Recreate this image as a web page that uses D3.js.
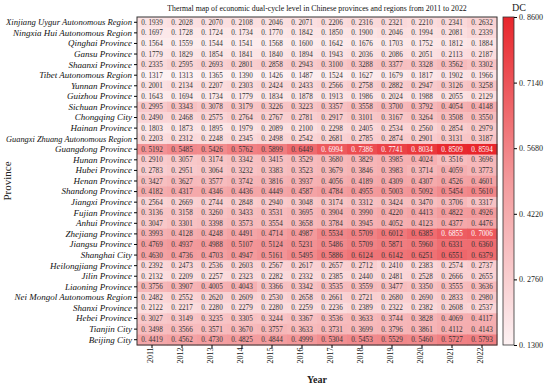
<!DOCTYPE html>
<html>
<head>
<meta charset="utf-8">
<script src="https://cdn.jsdelivr.net/npm/d3@7"></script>
<style>
  body { margin: 0; background: #fff; }
  svg { display: block; }
</style>
</head>
<body>
<div id="chart"></div>
<script>
// Data
const provinces = [
  "Xinjiang Uygur Autonomous Region", "Ningxia Hui Autonomous Region", "Qinghai Province",
  "Gansu Province", "Shaanxi Province", "Tibet Autonomous Region", "Yunnan Province",
  "Guizhou Province", "Sichuan Province", "Chongqing City", "Hainan Province",
  "Guangxi Zhuang Autonomous Region", "Guangdong Province", "Hunan Province", "Hubei Province",
  "Henan Province", "Shandong Province", "Jiangxi Province", "Fujian Province", "Anhui Province",
  "Zhejiang Province", "Jiangsu Province", "Shanghai City", "Heilongjiang Province",
  "Jilin Province", "Liaoning Province", "Nei Mongol Autonomous Region", "Shanxi Province",
  "Hebei Province", "Tianjin City", "Beijing City"
];

const years = ["2011", "2012", "2013", "2014", "2015", "2016", "2017", "2018", "2019", "2020", "2021", "2022"];

const dcValues = [
  [0.1939, 0.2028, 0.2070, 0.2108, 0.2046, 0.2071, 0.2206, 0.2316, 0.2321, 0.2210, 0.2341, 0.2632],
  [0.1697, 0.1728, 0.1724, 0.1734, 0.1770, 0.1842, 0.1850, 0.1900, 0.2046, 0.1994, 0.2081, 0.2339],
  [0.1564, 0.1559, 0.1544, 0.1541, 0.1568, 0.1600, 0.1642, 0.1676, 0.1703, 0.1752, 0.1812, 0.1884],
  [0.1779, 0.1829, 0.1854, 0.1841, 0.1840, 0.1894, 0.1943, 0.2036, 0.2086, 0.2051, 0.2113, 0.2187],
  [0.2335, 0.2595, 0.2693, 0.2801, 0.2858, 0.2943, 0.3100, 0.3288, 0.3377, 0.3328, 0.3562, 0.3302],
  [0.1317, 0.1313, 0.1365, 0.1390, 0.1426, 0.1487, 0.1524, 0.1627, 0.1679, 0.1817, 0.1902, 0.1966],
  [0.2001, 0.2134, 0.2207, 0.2303, 0.2424, 0.2433, 0.2566, 0.2758, 0.2882, 0.2947, 0.3126, 0.3258],
  [0.1643, 0.1694, 0.1734, 0.1779, 0.1834, 0.1878, 0.1913, 0.1986, 0.2024, 0.1988, 0.2055, 0.2129],
  [0.2995, 0.3343, 0.3078, 0.3179, 0.3226, 0.3223, 0.3357, 0.3558, 0.3700, 0.3792, 0.4054, 0.4148],
  [0.2490, 0.2468, 0.2575, 0.2764, 0.2767, 0.2781, 0.2917, 0.3101, 0.3167, 0.3264, 0.3508, 0.3550],
  [0.1803, 0.1873, 0.1895, 0.1979, 0.2089, 0.2100, 0.2298, 0.2405, 0.2534, 0.2560, 0.2854, 0.2979],
  [0.2203, 0.2312, 0.2248, 0.2345, 0.2498, 0.2542, 0.2681, 0.2785, 0.2874, 0.2901, 0.3131, 0.3187],
  [0.5192, 0.5485, 0.5426, 0.5762, 0.5899, 0.6449, 0.6994, 0.7386, 0.7741, 0.8034, 0.8509, 0.8594],
  [0.2910, 0.3057, 0.3174, 0.3342, 0.3415, 0.3529, 0.3680, 0.3829, 0.3985, 0.4024, 0.3516, 0.3696],
  [0.2783, 0.2951, 0.3064, 0.3232, 0.3383, 0.3523, 0.3679, 0.3846, 0.3983, 0.3714, 0.4059, 0.3773],
  [0.3427, 0.3627, 0.3577, 0.3742, 0.3816, 0.3937, 0.4056, 0.4189, 0.4309, 0.4307, 0.4526, 0.4601],
  [0.4182, 0.4317, 0.4346, 0.4436, 0.4449, 0.4587, 0.4784, 0.4955, 0.5003, 0.5092, 0.5454, 0.5610],
  [0.2564, 0.2669, 0.2744, 0.2848, 0.2940, 0.3048, 0.3174, 0.3312, 0.3424, 0.3470, 0.3706, 0.3317],
  [0.3136, 0.3158, 0.3260, 0.3433, 0.3531, 0.3695, 0.3904, 0.3990, 0.4220, 0.4413, 0.4822, 0.4926],
  [0.3047, 0.3301, 0.3398, 0.3573, 0.3554, 0.3658, 0.3784, 0.3945, 0.4052, 0.4123, 0.4377, 0.4476],
  [0.3993, 0.4128, 0.4248, 0.4491, 0.4714, 0.4987, 0.5534, 0.5709, 0.6012, 0.6385, 0.6855, 0.7006],
  [0.4769, 0.4937, 0.4988, 0.5107, 0.5124, 0.5231, 0.5486, 0.5709, 0.5871, 0.5960, 0.6331, 0.6360],
  [0.4630, 0.4736, 0.4703, 0.4947, 0.5161, 0.5495, 0.5886, 0.6124, 0.6142, 0.6251, 0.6551, 0.6379],
  [0.2392, 0.2473, 0.2536, 0.2603, 0.2567, 0.2617, 0.2657, 0.2712, 0.2410, 0.2383, 0.2574, 0.2737],
  [0.2132, 0.2209, 0.2257, 0.2323, 0.2282, 0.2332, 0.2385, 0.2440, 0.2481, 0.2528, 0.2666, 0.2655],
  [0.3756, 0.3907, 0.4005, 0.4043, 0.3366, 0.3342, 0.3535, 0.3559, 0.3477, 0.3350, 0.3555, 0.3636],
  [0.2482, 0.2552, 0.2620, 0.2609, 0.2530, 0.2658, 0.2661, 0.2721, 0.2680, 0.2690, 0.2833, 0.2980],
  [0.2122, 0.2217, 0.2280, 0.2279, 0.2280, 0.2259, 0.2236, 0.2389, 0.2322, 0.2382, 0.2608, 0.2537],
  [0.3027, 0.3149, 0.3235, 0.3305, 0.3244, 0.3367, 0.3536, 0.3633, 0.3744, 0.3828, 0.4069, 0.4117],
  [0.3498, 0.3566, 0.3571, 0.3670, 0.3757, 0.3633, 0.3731, 0.3699, 0.3796, 0.3861, 0.4112, 0.4143],
  [0.4419, 0.4562, 0.4730, 0.4825, 0.4844, 0.4999, 0.5304, 0.5453, 0.5529, 0.5460, 0.5727, 0.5793]
];

const colorTicks = [0.13, 0.276, 0.422, 0.568, 0.714, 0.86];

// Layout
const W = 550, H = 387;
const margin = { top: 17, right: 53, bottom: 42, left: 137 };
const width = W - margin.left - margin.right;
const height = H - margin.top - margin.bottom;

const serif = "'Liberation Serif', 'DejaVu Serif', serif";
const fmt = v => "0. " + v.toFixed(4).slice(2);

const svg = d3.select("#chart")
  .append("svg")
  .attr("width", W)
  .attr("height", H);

const g = svg.append("g")
  .attr("transform", `translate(${margin.left},${margin.top})`);

const x = d3.scaleBand().domain(years).range([0, width]);
const y = d3.scaleBand().domain(provinces).range([0, height]);

const color = d3.scaleLinear()
  .domain([0.13, 0.495, 0.86])
  .range(["#fdf2f3", "#f39a9c", "#e8262c"])
  .clamp(true);

// flatten for cells
const cells = [];
provinces.forEach((p, i) => {
  years.forEach((yr, j) => cells.push({ p, yr, v: dcValues[i][j] }));
});

g.selectAll("rect.cell")
  .data(cells)
  .join("rect")
  .attr("class", "cell")
  .attr("x", d => x(d.yr))
  .attr("y", d => y(d.p))
  .attr("width", x.bandwidth() + 0.5)
  .attr("height", y.bandwidth() + 0.5)
  .attr("fill", d => color(d.v));

g.selectAll("text.val")
  .data(cells)
  .join("text")
  .attr("class", "val")
  .attr("x", d => x(d.yr) + x.bandwidth() / 2)
  .attr("y", d => y(d.p) + y.bandwidth() / 2)
  .attr("dy", "0.35em")
  .attr("text-anchor", "middle")
  .style("font-family", serif)
  .style("font-size", "7.2px")
  .attr("fill", d => d.v > 0.68 ? "#fff" : "#333")
  .text(d => fmt(d.v));

// frame
g.append("rect")
  .attr("width", width)
  .attr("height", height)
  .attr("fill", "none")
  .attr("stroke", "#333")
  .attr("stroke-width", 1);

// Y axis
g.append("g")
  .call(d3.axisLeft(y).tickSize(3).tickPadding(2))
  .call(a => a.select(".domain").remove())
  .selectAll("text")
  .style("font-family", serif)
  .style("font-style", "italic")
  .style("font-size", "9px")
  .attr("fill", "#111")
  .each(function () {
    // squeeze the longest names so they stay inside the picture
    const len = this.getComputedTextLength();
    if (len > 126) {
      d3.select(this).attr("textLength", 126).attr("lengthAdjust", "spacingAndGlyphs");
    }
  });

// X axis
g.append("g")
  .attr("transform", `translate(0,${height})`)
  .call(d3.axisBottom(x).tickSize(3).tickPadding(2))
  .call(a => a.select(".domain").remove())
  .selectAll("text")
  .style("font-family", serif)
  .style("font-size", "8px")
  .attr("fill", "#111")
  .attr("text-anchor", "end")
  .attr("dx", "-0.3em")
  .attr("dy", "-0.45em")
  .attr("transform", "rotate(-90)");

// Title
svg.append("text")
  .attr("x", margin.left + width / 2)
  .attr("y", 11)
  .attr("text-anchor", "middle")
  .style("font-family", serif)
  .style("font-size", "7.8px")
  .attr("fill", "#111")
  .text("Thermal map of economic dual-cycle level in Chinese provinces and regions from 2011 to 2022");

// Axis labels
svg.append("text")
  .attr("x", margin.left + width / 2)
  .attr("y", 383)
  .attr("text-anchor", "middle")
  .style("font-family", serif)
  .style("font-weight", "bold")
  .style("font-size", "10px")
  .attr("fill", "#222")
  .text("Year");

svg.append("text")
  .attr("transform", `translate(11,${margin.top + height / 2}) rotate(-90)`)
  .attr("text-anchor", "middle")
  .style("font-family", serif)
  .style("font-size", "11px")
  .attr("fill", "#222")
  .text("Province");

// Colorbar
const cbX = 503, cbW = 11;
const cbScale = d3.scaleLinear().domain([0.13, 0.86]).range([margin.top + height, margin.top]);

const defs = svg.append("defs");
const grad = defs.append("linearGradient")
  .attr("id", "cb")
  .attr("x1", 0).attr("y1", 1).attr("x2", 0).attr("y2", 0);
d3.range(0, 1.0001, 0.1).forEach(t => {
  grad.append("stop")
    .attr("offset", t)
    .attr("stop-color", color(0.13 + t * 0.73));
});

svg.append("rect")
  .attr("x", cbX)
  .attr("y", margin.top)
  .attr("width", cbW)
  .attr("height", height)
  .attr("fill", "url(#cb)")
  .attr("stroke", "#333")
  .attr("stroke-width", 0.8);

svg.append("g")
  .attr("transform", `translate(${cbX + cbW},0)`)
  .call(d3.axisRight(cbScale).tickValues(colorTicks).tickSize(3).tickPadding(2).tickFormat(fmt))
  .call(a => a.select(".domain").remove())
  .selectAll("text")
  .style("font-family", serif)
  .style("font-size", "8px")
  .attr("fill", "#222");

svg.append("text")
  .attr("x", cbX + 16)
  .attr("y", 11)
  .attr("text-anchor", "middle")
  .style("font-family", serif)
  .style("font-size", "10px")
  .attr("fill", "#222")
  .text("DC");
</script>
</body>
</html>
